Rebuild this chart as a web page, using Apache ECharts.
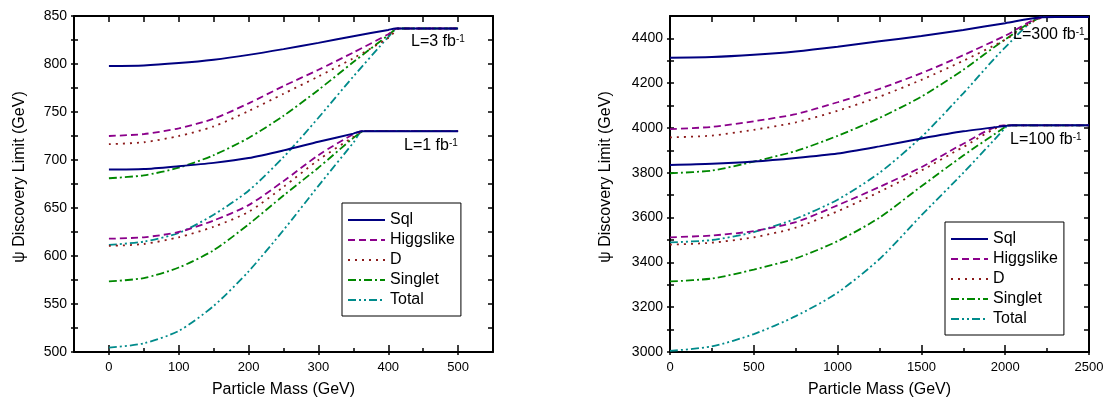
<!DOCTYPE html>
<html>
<head>
<meta charset="utf-8">
<script src="https://cdn.jsdelivr.net/npm/echarts@6.0.0/dist/echarts.min.js"></script>
<style>
html,body{margin:0;padding:0;background:#fff;}
#c{width:1110px;height:403px;}
</style>
</head>
<body>
<div id="c"></div>
<script>
// ---------------- data ----------------
// Left panel: L = 1 fb^-1  ([mass GeV, discovery limit GeV])
const sqlL1       = [[0,690],[50,690.5],[100,693.5],[150,697],[200,702],[250,710],[300,719],[350,727.5],[362,730],[380,730],[500,730]];
const higgsL1     = [[0,618],[50,619.5],[100,625],[150,637],[200,653],[250,678],[300,705],[350,727],[362,730],[380,730],[500,730]];
const dL1         = [[0,610.5],[50,612.5],[100,619.5],[150,630.5],[200,646],[250,672],[300,700],[350,724],[365,730],[380,730],[500,730]];
const singletL1   = [[0,573.5],[50,577],[100,588],[150,606],[200,633],[250,663],[300,692],[350,723],[365,730],[380,730],[500,730]];
const totalL1     = [[0,504.5],[50,509],[100,522],[150,548],[200,584],[250,627],[300,673],[350,718],[363,730],[380,730],[500,730]];
// Left panel: L = 3 fb^-1
const sqlL3       = [[0,798],[50,798.5],[100,801],[150,804.5],[200,809.5],[250,815.5],[300,822],[350,829],[400,835.5],[410,837],[430,837],[500,837]];
const higgsL3     = [[0,725],[50,727],[100,733],[150,743],[200,759],[250,777],[300,794],[350,812],[400,831],[413,837],[430,837],[500,837]];
const dL3         = [[0,716.5],[50,718.5],[100,725],[150,735],[200,751],[250,769],[300,787],[350,806],[400,827],[416,837],[430,837],[500,837]];
const singletL3   = [[0,681],[50,684],[100,692],[150,705],[200,723],[250,746],[300,773],[350,802],[400,830],[414,837],[430,837],[500,837]];
const totalL3     = [[0,611.5],[50,615],[100,624],[150,643],[200,668],[250,703],[300,744],[350,787],[400,828],[413,837],[430,837],[500,837]];
// Right panel: L = 100 fb^-1
const sqlL100     = [[0,3835],[250,3840],[500,3850],[750,3866],[1000,3886],[1250,3918],[1500,3953],[1750,3985],[2000,4009],[2040,4012],[2150,4012],[2500,4012]];
const higgsL100   = [[0,3512],[250,3520],[500,3540],[750,3580],[1000,3655],[1250,3737],[1500,3825],[1750,3930],[1990,4012],[2100,4012],[2500,4012]];
const dL100       = [[0,3479],[250,3488],[500,3512],[750,3555],[1000,3628],[1250,3715],[1500,3810],[1750,3915],[2010,4012],[2100,4012],[2500,4012]];
const singletL100 = [[0,3315],[250,3328],[500,3368],[750,3418],[1000,3495],[1250,3600],[1500,3740],[1750,3877],[2000,4005],[2015,4012],[2100,4012],[2500,4012]];
const totalL100   = [[0,3005],[250,3025],[500,3080],[750,3160],[1000,3265],[1250,3415],[1500,3610],[1750,3800],[2000,4000],[2015,4012],[2100,4012],[2500,4012]];
// Right panel: L = 300 fb^-1
const sqlL300     = [[0,4314],[250,4317],[500,4327],[750,4342],[1000,4363],[1250,4387],[1500,4411],[1750,4438],[2000,4468],[2200,4493],[2300,4495],[2500,4495]];
const higgsL300   = [[0,3995],[250,4005],[500,4030],[750,4062],[1000,4115],[1250,4175],[1500,4245],[1750,4325],[2000,4412],[2230,4495],[2330,4495],[2500,4495]];
const dL300       = [[0,3958],[250,3966],[500,3992],[750,4025],[1000,4077],[1250,4140],[1500,4215],[1750,4300],[2000,4394],[2240,4495],[2340,4495],[2500,4495]];
const singletL300 = [[0,3798],[250,3810],[500,3850],[750,3897],[1000,3965],[1250,4045],[1500,4140],[1750,4260],[2000,4395],[2235,4495],[2340,4495],[2500,4495]];
const totalL300   = [[0,3489],[250,3500],[500,3535],[750,3595],[1000,3680],[1250,3800],[1500,3960],[1750,4155],[2000,4360],[2220,4495],[2330,4495],[2500,4495]];

const seriesNames = ['Sql','Higgslike','D','Singlet','Total'];
const lumiLabels  = ['L=1 fb', 'L=3 fb', 'L=100 fb', 'L=300 fb'];

// tick values / tick labels
const massRangeLeft   = [-50, 550];
const massLabelsLeft  = [0,100,200,300,400,500];
const massMinorLeft   = [50,150,250,350,450];
const limitRangeLeft  = [500, 850];
const limitLabelsLeft = [500,550,600,650,700,750,800,850];
const limitMinorLeft  = [525,575,625,675,725,775,825];
const massRangeRight   = [0, 2500];
const massLabelsRight  = [0,500,1000,1500,2000,2500];
const massMinorRight   = [250,750,1250,1750,2250];
const limitRangeRight  = [3000, 4500];
const limitLabelsRight = [3000,3200,3400,3600,3800,4000,4200,4400];
const limitMinorRight  = [3100,3300,3500,3700,3900,4100,4300];

// ---------------- styling ----------------
const FONT = '"Liberation Sans", Arial, Helvetica, sans-serif';
const BLACK = '#000';
const colors = {Sql:'#000080', Higgslike:'#8b008b', D:'#8b1a1a', Singlet:'#008800', Total:'#008b8b'};
const dashes = {Sql:'solid', Higgslike:[7,4], D:[2,5], Singlet:[8,3,2,3], Total:[8,3,2,3,2,3]};

const grids = [
  {left:74, top:16, width:419, height:336},
  {left:670, top:16, width:419, height:337}
];

const xAxes = [], yAxes = [];
const mainX = [], mainY = [];
const plain = v => String(v);

function axisBase(g, range, extra){
  return Object.assign({
    type:'value', gridIndex:g, min:range[0], max:range[1],
    splitLine:{show:false}, minorTick:{show:false},
    axisLine:{show:false, onZero:false},
    axisLabel:{show:false},
    axisTick:{show:false}
  }, extra);
}
function tickDef(values, inside, len){
  return {show:true, inside:inside, length:len, customValues:values, lineStyle:{color:BLACK, width:1.5}};
}

function buildPanel(g, xr, xLab, xMin, yr, yLab, yMin, yNameGap){
  mainX[g] = xAxes.length;
  xAxes.push(axisBase(g, xr, {
    position:'bottom',
    axisLine:{show:true, onZero:false, lineStyle:{color:BLACK, width:2}},
    axisTick:tickDef(xLab, true, 7),
    axisLabel:{show:true, customValues:xLab, formatter:plain, color:BLACK, fontSize:13, fontFamily:FONT, margin:9},
    name:'Particle Mass (GeV)', nameLocation:'middle', nameGap:30,
    nameTextStyle:{color:BLACK, fontSize:16, fontFamily:FONT}
  }));
  xAxes.push(axisBase(g, xr, {position:'bottom', axisTick:tickDef(xMin, true, 4)}));
  xAxes.push(axisBase(g, xr, {position:'bottom', axisTick:tickDef(xLab, false, 3)}));
  xAxes.push(axisBase(g, xr, {position:'top',
    axisLine:{show:true, onZero:false, lineStyle:{color:BLACK, width:2}},
    axisTick:tickDef(xLab.concat(xMin), true, 6)}));
  mainY[g] = yAxes.length;
  yAxes.push(axisBase(g, yr, {
    position:'left',
    axisLine:{show:true, onZero:false, lineStyle:{color:BLACK, width:2}},
    axisTick:tickDef(yLab.concat(yMin), true, 4),
    axisLabel:{show:true, customValues:yLab, formatter:plain, color:BLACK, fontSize:14, fontFamily:FONT, margin:7},
    name:'\u03c8 Discovery Limit (GeV)', nameLocation:'middle', nameGap:yNameGap,
    nameTextStyle:{color:BLACK, fontSize:16, fontFamily:FONT, padding:[0,0,0,14]}
  }));
  yAxes.push(axisBase(g, yr, {position:'left', axisTick:tickDef(yLab.concat(yMin), false, 3)}));
  yAxes.push(axisBase(g, yr, {position:'right',
    axisLine:{show:true, onZero:false, lineStyle:{color:BLACK, width:2}},
    axisTick:tickDef(yLab.concat(yMin), true, 5)}));
}

buildPanel(0, massRangeLeft, massLabelsLeft, massMinorLeft, limitRangeLeft, limitLabelsLeft, limitMinorLeft, 46);
buildPanel(1, massRangeRight, massLabelsRight, massMinorRight, limitRangeRight, limitLabelsRight, limitMinorRight, 56);

const panelData = [
  [sqlL1, higgsL1, dL1, singletL1, totalL1, sqlL3, higgsL3, dL3, singletL3, totalL3],
  [sqlL100, higgsL100, dL100, singletL100, totalL100, sqlL300, higgsL300, dL300, singletL300, totalL300]
];

const series = [];
panelData.forEach((list, g) => {
  list.forEach((data, i) => {
    const name = seriesNames[i % 5];
    series.push({
      type:'line', name:name, data:data,
      xAxisIndex:mainX[g], yAxisIndex:mainY[g],
      symbol:'none', smooth:0.25, clip:true,
      color:colors[name],
      itemStyle:{color:colors[name]},
      lineStyle:{color:colors[name], width:name === 'Sql' ? 2 : 1.8, type:dashes[name]},
      z: 10 - (i % 5),
      silent:true
    });
  });
});

function legendAt(left, top){
  return {
    orient:'vertical', left:left, top:top,
    itemWidth:37, itemHeight:16, itemGap:4,
    padding:[9,6,8,5],
    borderColor:BLACK, borderWidth:1, backgroundColor:'#fff',
    selectedMode:false,
    data:seriesNames,
    itemStyle:{opacity:0, color:'transparent', borderWidth:0},
    textStyle:{color:BLACK, fontSize:16, fontFamily:FONT}
  };
}

function lumiText(txt, left, top){
  return {
    type:'text', left:left, top:top, z:100,
    style:{
      text:'{a|' + txt + '}{b|-1}',
      rich:{
        a:{fontSize:16, fontFamily:FONT, fill:BLACK, color:BLACK},
        b:{fontSize:10, fontFamily:FONT, fill:BLACK, color:BLACK, verticalAlign:'top'}
      }
    }
  };
}

const option = {
  animation:false,
  backgroundColor:'#fff',
  grid:grids,
  xAxis:xAxes,
  yAxis:yAxes,
  legend:[legendAt(342, 203), legendAt(945, 222)],
  series:series,
  graphic:[
    lumiText(lumiLabels[1], 411, 34),
    lumiText(lumiLabels[0], 404, 138),
    lumiText(lumiLabels[3], 1013, 27),
    lumiText(lumiLabels[2], 1010, 132)
  ]
};

const chart = echarts.init(document.getElementById('c'), null, {renderer:'canvas'});
chart.setOption(option);
</script>
</body>
</html>
